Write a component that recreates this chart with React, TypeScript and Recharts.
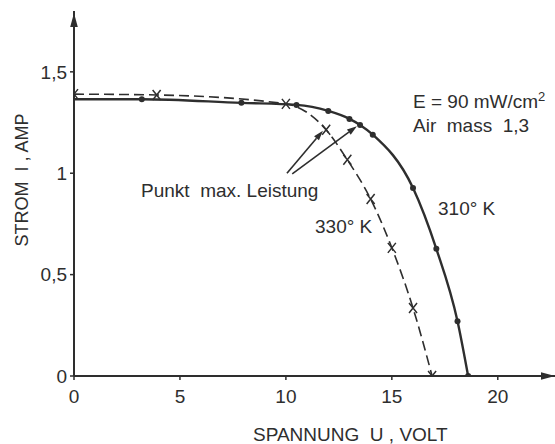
import { LineChart, Line, XAxis, YAxis, ReferenceLine, Customized } from "recharts";

// Kennlinie bei 310 K (durchgezogen, Punkte)
const spannung310 = [0, 3.2, 7.9, 10.5, 12.0, 13.0, 13.5, 14.1, 16.0, 17.1, 18.1, 18.6];
const strom310 = [1.365, 1.365, 1.347, 1.337, 1.307, 1.268, 1.238, 1.19, 0.927, 0.627, 0.27, 0];

// Kennlinie bei 330 K (gestrichelt, Kreuze)
const spannung330 = [0, 3.9, 10.0, 11.9, 12.9, 14.0, 15.0, 16.0, 16.9];
const strom330 = [1.39, 1.386, 1.342, 1.214, 1.066, 0.873, 0.632, 0.335, 0];

const xTicks = [0, 5, 10, 15, 20];
const yTicks = [0, 0.5, 1, 1.5];

// Pfeile "Punkt max. Leistung": Start und Ziel in Datenkoordinaten
const mppPfeile = [
  { von: { x: 10.05, y: 1.0 }, nach: { x: 11.75, y: 1.21 } },
  { von: { x: 10.3, y: 0.997 }, nach: { x: 13.35, y: 1.232 } },
];

const INK = "#2e2e2e";
const TEXT_FONT = "'Liberation Sans', Arial, sans-serif";
const NUM_FONT = "'Liberation Sans Narrow', 'Liberation Sans', Arial, sans-serif";
const SP = "\u00A0";

const data310 = spannung310.map((u, i) => ({ u, i: strom310[i] }));
const data330 = spannung330.map((u, i) => ({ u, i: strom330[i] }));

const fmt = (v: number) => String(v).replace(".", ",");

const pfeil = (len: number, w: number) => (props: any) => {
  const { x1, y1, x2, y2 } = props;
  const a = Math.atan2(y2 - y1, x2 - x1);
  const bx = x2 - len * Math.cos(a);
  const by = y2 - len * Math.sin(a);
  const p1 = `${bx + w * Math.sin(a)},${by - w * Math.cos(a)}`;
  const p2 = `${bx - w * Math.sin(a)},${by + w * Math.cos(a)}`;
  return (
    <g>
      <line x1={x1} y1={y1} x2={bx} y2={by} stroke={INK} strokeWidth={1.6} />
      <polygon points={`${x2},${y2} ${p1} ${p2}`} fill={INK} />
    </g>
  );
};
const kleinerPfeil = pfeil(10, 3.2);
const achsenPfeil = pfeil(14, 3.8);

const Punkt = (props: any) => {
  const { cx, cy, index } = props;
  if (index === 0) return <g key={`p${index}`} />;
  return <circle key={`p${index}`} cx={cx} cy={cy} r={3} fill={INK} />;
};

const Kreuz = (props: any) => {
  const { cx, cy, index } = props;
  return (
    <path
      key={`k${index}`}
      d={`M${cx - 4},${cy - 5}L${cx + 4},${cy + 5}M${cx + 4},${cy - 5}L${cx - 4},${cy + 5}`}
      stroke={INK}
      strokeWidth={1.5}
      fill="none"
    />
  );
};

const Beschriftung = () => (
  <g fill={INK} fontFamily={TEXT_FONT} fontSize={19}>
    <text x={22} y={180} textAnchor="middle" dominantBaseline="central" transform="rotate(-90 22 180)" fontSize={18}>
      {`STROM${SP} I , AMP`}
    </text>
    <text x={253} y={441}>{`SPANNUNG${SP} U , VOLT`}</text>
    <text x={413} y={108}>
      {"E = 90 mW/cm"}<tspan dy={-7} fontSize={13}>2</tspan>
    </text>
    <text x={413} y={132}>{`Air${SP} mass${SP} 1,3`}</text>
    <text x={141} y={197}>{`Punkt${SP} max. Leistung`}</text>
    <text x={438} y={215}>{"310° K"}</text>
    <text x={315} y={233}>{"330° K"}</text>
  </g>
);

export default function App() {
  return (
    <div style={{ position: "absolute", left: 0, top: 0, width: 555, height: 444, background: "#fff" }}>
      <LineChart width={555} height={444} margin={{ top: 11, right: 0, bottom: 0, left: 0 }}>
        <XAxis
          type="number"
          dataKey="u"
          domain={[0, 22.7]}
          ticks={xTicks}
          allowDataOverflow
          height={68}
          axisLine={{ stroke: INK, strokeWidth: 2 }}
          tickLine={{ stroke: INK, strokeWidth: 1.5 }}
          tickSize={4}
          tickMargin={10}
          tick={{ fill: INK, fontSize: 19, fontFamily: NUM_FONT }}
        />
        <YAxis
          type="number"
          dataKey="i"
          domain={[0, 1.8]}
          ticks={yTicks}
          allowDataOverflow
          width={74}
          axisLine={{ stroke: INK, strokeWidth: 2 }}
          tickLine={{ stroke: INK, strokeWidth: 1.5 }}
          tickSize={4}
          tickMargin={3}
          tickFormatter={fmt}
          tick={{ fill: INK, fontSize: 19, fontFamily: NUM_FONT }}
        />
        <ReferenceLine segment={[{ x: 21.9, y: 0 }, { x: 22.7, y: 0 }]} shape={achsenPfeil} />
        <ReferenceLine segment={[{ x: 0, y: 1.7 }, { x: 0, y: 1.79 }]} shape={achsenPfeil} />
        {mppPfeile.map((p, k) => (
          <ReferenceLine key={k} segment={[p.von, p.nach]} shape={kleinerPfeil} />
        ))}
        <Line
          data={data330}
          dataKey="i"
          type="monotone"
          stroke={INK}
          strokeWidth={1.6}
          strokeDasharray="10 5"
          dot={Kreuz}
          isAnimationActive={false}
        />
        <Line
          data={data310}
          dataKey="i"
          type="monotone"
          stroke={INK}
          strokeWidth={2.4}
          dot={Punkt}
          isAnimationActive={false}
        />
        <Customized component={Beschriftung} />
      </LineChart>
    </div>
  );
}
